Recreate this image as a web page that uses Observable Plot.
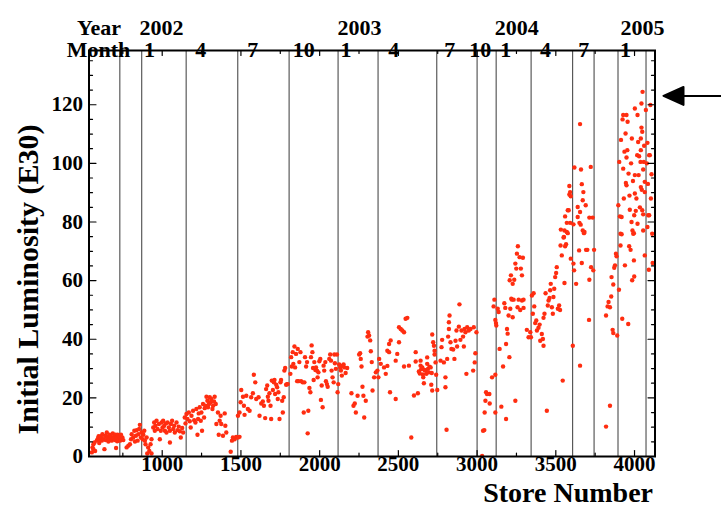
<!DOCTYPE html>
<html>
<head>
<meta charset="utf-8">
<script src="https://cdn.jsdelivr.net/npm/d3@7"></script>
<script src="https://cdn.jsdelivr.net/npm/@observablehq/plot@0.6"></script>
<style>
  html, body { margin: 0; padding: 0; background: #fff; }
</style>
</head>
<body>
<div id="chart"></div>
<script>
// Initial luminosity (units of 1e30 cm^-2 s^-1) per store, grouped by calendar year: [store, luminosity]
const stores2001 = [
  [553,1.4],[557,3.1],[563,2.5],[563,4.2],[570,4.8],[574,1.9],[585,5.5],[592,6.2],[596,6.9],[600,4.6],
  [604,5.8],[607,6.8],[612,6.4],[616,5.4],[620,7.6],[627,5.9],[633,2.5],[637,7.1],[641,5.6],[644,6.9],
  [648,8.2],[654,6.5],[658,5.1],[662,6.2],[665,7.4],[669,5.9],[675,6.7],[679,5.4],[683,6.1],[686,7.9],
  [690,6.3],[696,7.1],[700,5.6],[703,7.4],[707,2.9],[711,6.5],[714,5.2],[717,7.4],[721,5.9],[725,7.0],
  [728,6.7],[732,5.4],[735,6.2],[738,7.4],[742,5.8],[747,6.5],[753,5.6],[774,3.1],[785,3.7],[795,4.2],
  [802,5.9],[806,7.6],[816,6.5],[823,8.8],[827,5.1],[833,7.1],[838,9],[844,5.4],[848,7.6],[854,9.4],
  [858,10.8],[865,6.5],[869,8.2]
];
const stores2002 = [
  [876,5.9],[880,7.4],[886,8.8],[890,5.4],[894,4.2],[901,6.5],[905,1],[911,3.1],[918,1.9],[926,4.2],
  [932,1],[932,5.9],[943,9.9],[949,11.6],[953,8.8],[957,10.5],[964,12.2],[970,9.4],[979,11.1],[985,5.9],
  [991,8.8],[996,11.6],[1002,9.9],[1006,12.2],[1013,10.5],[1017,8.8],[1023,11.3],[1027,8.2],[1034,11.6],[1042,9.9],
  [1049,8.8],[1049,4.8],[1055,11.1],[1063,12.2],[1070,9.4],[1076,10.5],[1080,8.2],[1091,11.6],[1097,9],[1105,10.2],
  [1112,8.6],[1118,6.5],[1127,9.7],[1133,8.2],[1143,13.3],[1148,11.3],[1154,14.5],[1160,12.8],[1169,15],[1175,12],
  [1181,9.9],[1186,13.9],[1196,15.6],[1203,12.4],[1211,11.6],[1217,16.2],[1224,7.4],[1228,12.8],[1232,14.7],[1238,16.8],
  [1245,12.2],[1249,15],[1253,8.8],[1259,17.9],[1266,13.3],[1270,16.5],[1274,17.3],[1281,20.4],[1287,19],[1291,16.8],
  [1297,17.9],[1302,20.2],[1308,18.5],[1312,19.6],[1319,16.2],[1323,17.3],[1329,18.8],[1333,20.4],[1340,17.9],[1344,11.1],
  [1354,15],[1359,7.4],[1365,12.2],[1371,13.9],[1375,11.1],[1386,7.1],[1397,14.7],[1401,10.5],[1407,8.2],[1435,1.6],
  [1443,5.4],[1449,6.5],[1460,5.9],[1470,6.7],[1481,6.5],[1491,6.7],[1481,13.9],[1491,15],[1498,18.5],[1502,22.7],
  [1513,20.4],[1519,17.3],[1523,14.2],[1534,20.7],[1544,16.2],[1555,15.6],[1565,20.2],[1576,21.6],[1582,27.9],[1591,25.3],
  [1597,19.6],[1612,20.2],[1618,13.9],[1629,18.1],[1639,18.8],[1646,17.3],[1654,13.1],[1660,23],[1667,24.2],[1671,20.4],
  [1675,19],[1681,21.6],[1688,17.3],[1692,12.8],[1696,25.9],[1703,22.7],[1709,25.3],[1713,26.1],[1717,21.3],[1724,24.5],
  [1730,23.6],[1734,19.6],[1738,21.9],[1745,12.8],[1751,25.3],[1755,26.1],[1762,19],[1766,15],[1772,20.2],[1776,29.3],
  [1781,30.2],[1787,24.5],[1793,24.7],[1797,24.7],[1814,28.2],[1819,33.9],[1823,30.7],[1829,35.6],[1833,31.6],[1840,37.5],
  [1844,30.4],[1850,35],[1857,25.7],[1861,36.7],[1865,25.7],[1871,32.2],[1878,35.6],[1882,25.7],[1892,25.3],[1899,15],
  [1903,25.3],[1907,33.9],[1914,30.7],[1920,32.2],[1924,7.9],[1928,15.6],[1935,23.4],[1941,21.9],[1945,33.9],[1949,37.9],
  [1954,35.6],[1958,30.2],[1962,26.1],[1966,32.2],[1973,29.5],[1977,30.4],[1983,29.3],[1987,27],[1992,28.7],[1998,32.5],
  [2004,33.3],[2008,19.3],[2013,24.2],[2019,16.8],[2025,31],[2029,29.3],[2036,32.2],[2040,25.7],[2046,24.7],[2051,23.8],
  [2061,33.3],[2067,34.8],[2072,32.7],[2076,29.3],[2082,27],[2089,25.3],[2093,34.8],[2097,31.8],[2103,29.9],[2110,34.8],
  [2114,21.9]
];
const stores2003 = [
  [2118,24.7],[2124,31.4],[2131,30.4],[2135,29.3],[2141,27.6],[2145,31],[2152,31.4],[2156,30.4],[2165,28.5],[2175,30.2],
  [2202,21.6],[2215,17.3],[2223,18.1],[2230,15],[2241,20.7],[2251,34.8],[2257,35.2],[2261,33.3],[2266,30.7],[2272,23.8],
  [2278,20.7],[2283,13.3],[2293,19],[2304,40.9],[2308,42.4],[2314,41.3],[2321,39.6],[2325,35.9],[2331,32.2],[2336,22.5],
  [2346,27],[2357,28.7],[2367,29.3],[2373,27],[2378,33.3],[2388,31.6],[2409,30.4],[2420,28.2],[2430,30.9],[2430,36.1],
  [2441,38.4],[2441,35.6],[2447,21.9],[2451,39.6],[2483,19.6],[2483,32.7],[2493,35],[2504,39],[2504,44.1],[2515,43.5],
  [2525,43],[2536,42.4],[2536,30.7],[2546,47],[2557,47.3],[2567,31],[2582,6.5],[2599,20.8],[2610,35.6],[2610,32.4],
  [2624,21.6],[2630,29],[2636,28.3],[2641,32.7],[2641,31],[2645,29.8],[2652,30.4],[2656,28],[2658,27],[2662,25],
  [2666,29.5],[2673,29.3],[2678,28.2],[2683,31.6],[2683,33.8],[2688,29.9],[2694,28.7],[2698,30.6],[2705,30.4],[2709,24.5],
  [2712,28.5],[2715,22.5],[2715,41.6],[2721,39],[2726,37.8],[2730,36.1],[2730,34.8],[2736,32.1],[2740,27.9],[2747,22.7],
  [2768,32.7],[2774,37.3],[2778,39.8],[2789,32.1],[2799,27],[2799,23.6],[2806,9.1],[2810,33.3],[2816,40.9],[2821,43.5],
  [2821,45.8],[2825,48.1],[2831,39],[2837,36.7],[2848,36.5],[2856,33.3],[2863,39.5],[2869,43],[2873,37.5],[2884,44.3],
  [2888,51.9],[2894,39.8],[2901,43],[2911,40.9],[2916,37.5],[2920,43.5],[2926,42.4],[2932,28.2],[2937,44.1],[2947,43],
  [2958,43.5],[2975,29.3],[2979,44.1],[2985,32.1],[2989,35.2],[2996,42.4],[3032,0.2],[3038,8.8],[3046,9],[3048,15],
  [3053,19],[3057,21.9],[3063,21.3],[3078,21.3],[3080,18.1],[3095,27],[3105,51.2],[3110,53.5],[3116,15],[3116,27.9],
  [3116,46.6],[3120,45.5]
];
const stores2004 = [
  [3122,44.7],[3131,50.4],[3137,49.3],[3143,36.7],[3154,17],[3165,30.7],[3173,52.3],[3179,50.7],[3184,12.8],[3184,38.4],
  [3190,43.5],[3194,41.9],[3200,48.1],[3205,33.9],[3207,60.1],[3211,50.4],[3215,61.8],[3217,53.8],[3222,53.5],[3226,47.5],
  [3226,58.9],[3232,53.5],[3236,60.3],[3243,19],[3243,65.8],[3249,64.1],[3253,69.2],[3257,50.9],[3259,71.7],[3264,53.5],
  [3270,68],[3274,50],[3278,64.1],[3285,61.8],[3285,53.2],[3291,67.8],[3295,53.5],[3295,50.7],[3316,43.2],[3327,40.7],
  [3338,42.4],[3342,40.7],[3348,54.9],[3354,48.7],[3359,55.7],[3363,51.2],[3369,45.5],[3376,46.4],[3380,43],[3390,43.9],
  [3397,45],[3401,39.5],[3411,41.8],[3418,40.1],[3422,37.8],[3422,47.3],[3428,48.7],[3435,55.7],[3443,15.6],[3449,51.5],
  [3454,53.2],[3460,54.1],[3464,56.7],[3468,58.9],[3475,50.9],[3481,48.7],[3485,54.4],[3490,57.2],[3496,61.2],[3502,62.6],
  [3506,64.6],[3513,50.4],[3521,51.5],[3527,50],[3530,72],[3532,77.4],[3538,68.6],[3544,25.9],[3549,74.7],[3552,74.9],
  [3555,59.2],[3555,77.1],[3559,71.7],[3559,81.9],[3565,72.4],[3570,76.6],[3570,79.7],[3576,76.2],[3576,84],[3582,84],
  [3586,92.3],[3586,89.4],[3591,90.2],[3591,79.7],[3595,88.8],[3595,67.5],[3608,37.8],[3612,79.2],[3612,65.8],[3616,63.5],
  [3618,98.6],[3629,58.9],[3639,85.1],[3639,81.7],[3648,70.3],[3650,79.7],[3654,113.4],[3654,83.4],[3654,31],[3658,79.1],
  [3660,97.9],[3665,92.9],[3665,66],[3671,87.4],[3671,77.1],[3675,90.2],[3679,76.2],[3682,76.6],[3690,85.7],[3692,70.5],
  [3700,70.5],[3711,46.6],[3713,81.5],[3713,60.3],[3722,98.8],[3724,64.6],[3734,81.5],[3738,63.5],[3743,70.5],[3819,48.1],
  [3819,10.2],[3829,51.2],[3835,52.7],[3844,50.9],[3844,17.3],[3852,54.6],[3854,61.2],[3861,43.2],[3865,42.1],[3865,58.7],
  [3871,64.4],[3876,65.2],[3882,69.2],[3886,68.3],[3890,41.3]
];
const stores2005 = [
  [3897,85.7],[3901,56.9],[3903,100.5],[3907,81.9],[3911,76],[3911,72],[3914,108],[3918,81.7],[3918,75.8],[3922,47],
  [3924,115],[3928,116.5],[3928,98.2],[3932,88],[3936,104],[3939,65.2],[3943,110.2],[3945,93.3],[3949,116.5],[3949,102],
  [3949,92.5],[3954,104.5],[3956,114.2],[3960,45.2],[3962,96.5],[3966,71.7],[3968,89],[3970,84.2],[3975,70.5],[3978,100],
  [3981,80],[3983,108.5],[3985,60.1],[3987,77.1],[3990,94],[3992,76],[3996,76.2],[3996,66.9],[3998,82.3],[3998,61.4],
  [4002,96],[4002,89.7],[4002,118.7],[4008,83.8],[4012,88],[4017,102.8],[4019,79.4],[4019,116.5],[4023,107.3],[4026,96],
  [4029,102.4],[4034,85],[4038,100.5],[4040,104.5],[4040,108.5],[4040,91.9],[4044,112.2],[4044,120.4],[4046,91],[4049,110.8],
  [4049,84],[4051,124.4],[4055,97.9],[4055,82.6],[4055,77.1],[4059,100.5],[4061,106],[4065,93.7],[4065,90.2],[4065,68.6],
  [4072,118.2],[4078,100],[4082,107],[4082,78.3],[4085,93],[4087,82.3],[4091,63.7],[4093,102.8],[4093,82.3],[4097,102.8],
  [4101,119.9],[4104,88],[4108,96.3],[4112,76],[4115,66]
];

// First store of each quarter (month 1, 4, 7, 10) and of the last months shown
const monthBoundaries = [731, 870, 1152, 1480, 1806, 2117, 2371, 2744, 3000, 3121, 3343, 3607, 3743, 3895, 4073];

// Calendar labels along the top
const monthLabelStores = [919, 1245, 1575, 1899, 2168, 2470, 2826, 3020, 3182, 3434, 3677, 3942];
const monthLabels = ["1", "4", "7", "10", "1", "4", "7", "10", "1", "4", "7", "1"];
const yearLabelStores = [995, 2253, 3252, 4050];
const yearLabels = ["2002", "2003", "2004", "2005"];

// Axis ticks
const xMajorTicks = [1000, 1500, 2000, 2500, 3000, 3500, 4000];
const xMinorTicks = [750, 1250, 1750, 2250, 2750, 3250, 3750];
const yMajorTicks = [0, 20, 40, 60, 80, 100, 120];
const yMinorTicks = d3.range(5, 140, 5).filter(v => v % 20 !== 0);

// Design luminosity goal marked by the arrow
const goalLuminosity = [123];

const points = [...stores2001, ...stores2002, ...stores2003, ...stores2004, ...stores2005]
  .map(([store, lumi]) => ({store, lumi}));

const font = "'Liberation Serif', 'Times New Roman', Times, serif";

// A plain line from the anchor point, used for inward-pointing tick marks
const tickLine = {draw(context, l) { context.moveTo(0, 0); context.lineTo(0, -l); }};
// Shaft plus filled triangular head
const arrowShape = {
  draw(context, l) {
    context.moveTo(0, 0); context.lineTo(0, -l + 20);
    context.moveTo(0, -l); context.lineTo(-9, -l + 20); context.lineTo(9, -l + 20); context.closePath();
  }
};

const ticks = (values, frameAnchor, rotate, length) =>
  Plot.vector(values, {
    [frameAnchor === "left" || frameAnchor === "right" ? "y" : "x"]: d => d,
    frameAnchor, rotate, length, anchor: "start", shape: tickLine, stroke: "black", strokeWidth: 1.2
  });

const label = {fontWeight: "bold", fill: "black"};

const chart = Plot.plot({
  width: 721,
  height: 513,
  marginLeft: 88.5,
  marginRight: 66.5,
  marginTop: 50,
  marginBottom: 57,
  x: {domain: [535, 4130], axis: null},
  y: {domain: [0, 138.5], axis: null},
  style: {fontFamily: font, fontWeight: "bold", background: "white", color: "black", overflow: "visible"},
  marks: [
    Plot.ruleX(monthBoundaries, {stroke: "#3a3a3a", strokeWidth: 1}),
    Plot.dot(points, {x: "store", y: "lumi", r: 2.2, fill: "#ff2d10", stroke: "none"}),
    Plot.frame({stroke: "black", strokeWidth: 2}),

    ticks(xMajorTicks, "bottom", 0, 6),
    ticks(xMinorTicks, "bottom", 0, 3.5),
    ticks(xMajorTicks, "top", 180, 5),
    ticks(xMinorTicks, "top", 180, 3),
    ticks(yMajorTicks, "left", 90, 7),
    ticks(yMinorTicks, "left", 90, 3.5),
    ticks(yMajorTicks, "right", 270, 7),
    ticks(yMinorTicks, "right", 270, 3.5),

    Plot.text(xMajorTicks, {x: d => d, frameAnchor: "bottom", dy: 14, text: d => String(d), fontSize: 21, ...label}),
    Plot.text(yMajorTicks, {y: d => d, frameAnchor: "left", dx: -6, textAnchor: "end", text: d => String(d), fontSize: 21, ...label}),

    Plot.text(d3.zip(monthLabelStores, monthLabels), {x: "0", text: "1", frameAnchor: "top", dy: -9.5, fontSize: 22, ...label}),
    Plot.text(d3.zip(yearLabelStores, yearLabels), {x: "0", text: "1", frameAnchor: "top", dy: -30.8, fontSize: 22, ...label}),
    Plot.text(["Year"], {frameAnchor: "top-left", textAnchor: "middle", dx: 10, dy: -30.8, fontSize: 22, ...label}),
    Plot.text(["Month"], {frameAnchor: "top-left", textAnchor: "middle", dx: 9.5, dy: -9.5, fontSize: 22, ...label}),

    Plot.text(["Initial Luminosity (E30)"], {frameAnchor: "left", textAnchor: "middle", rotate: -90, dx: -61, dy: 26, fontSize: 30, ...label}),
    Plot.text(["Store Number"], {frameAnchor: "bottom-right", textAnchor: "end", dx: -2, dy: 45, fontSize: 28, ...label}),

    Plot.vector(goalLuminosity, {y: d => d, frameAnchor: "right", dx: 66.5, rotate: -90, length: 58, anchor: "start", shape: arrowShape, stroke: "black", fill: "black", strokeWidth: 2})
  ]
});

document.getElementById("chart").appendChild(chart);
</script>
</body>
</html>
